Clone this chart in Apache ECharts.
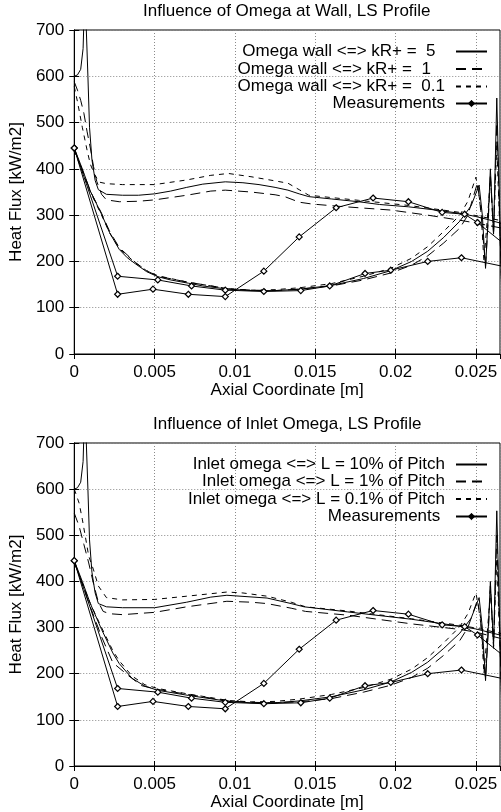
<!DOCTYPE html>
<html>
<head>
<meta charset="utf-8">
<script src="https://cdn.jsdelivr.net/npm/echarts@6/dist/echarts.min.js"></script>
<style>
html,body{margin:0;padding:0;background:#fff;}
#chart{width:501px;height:812px;}
</style>
</head>
<body>
<div id="chart"></div>
<script>
// ---------------- DATA ----------------
var xTicks = [0, 0.005, 0.01, 0.015, 0.02, 0.025];
var yTicks = [0, 100, 200, 300, 400, 500, 600, 700];

var titleTop = 'Influence of Omega at Wall, LS Profile';
var titleBottom = 'Influence of Inlet Omega, LS Profile';
var namesTop = ['Omega wall <=> kR+ =  5  ', 'Omega wall <=> kR+ =  1   ', 'Omega wall <=> kR+ =  0.1', 'Measurements'];
var namesBottom = ['Inlet omega <=> L = 10% of Pitch', 'Inlet omega <=> L = 1% of Pitch', 'Inlet omega <=> L = 0.1% of Pitch', 'Measurements '];

// Measurements (same in both panels) - two branches starting at leading edge
var measA = [[0,445],[0.0027,129],[0.0049,140],[0.0071,129],[0.0094,124],[0.0118,179],[0.0140,253],[0.0163,316],[0.0186,337],[0.0208,329],[0.0229,306],[0.0243,302],[0.0251,284],[0.0266,242]];
var measB = [[0,445],[0.0027,168],[0.0052,160],[0.0073,147],[0.0094,138],[0.0118,135],[0.0141,137],[0.0159,147],[0.0181,174],[0.0197,181],[0.0220,200],[0.0241,208],[0.0266,190]];

// Top panel: kR+ = 5 (solid)
var top5Upper = [[0,600],[0.0002,603],[0.0004,615],[0.00055,660],[0.00065,780],[0.00075,700],[0.00085,600],[0.00095,490],[0.0011,420],[0.0013,375],[0.0015,355],[0.002,345],[0.003,343],[0.004,343],[0.005,346],[0.006,352],[0.007,360],[0.008,367],[0.0094,372],[0.0105,370],[0.0115,366],[0.0125,360],[0.0133,354],[0.014,346],[0.0146,340],[0.016,335],[0.0177,329],[0.019,323],[0.0208,318],[0.0225,311],[0.024,304],[0.025,297],[0.0258,290],[0.0266,282]];
var top5Lower = [[0,445],[0.0005,400],[0.001,352],[0.0017,302],[0.0022,262],[0.0028,226],[0.0033,208],[0.0038,195],[0.0045,178],[0.0052,167],[0.006,160],[0.0071,153],[0.008,147],[0.0096,140],[0.011,137],[0.0125,137],[0.014,140],[0.016,148],[0.018,163],[0.0197,180],[0.021,200],[0.022,222],[0.023,252],[0.024,287],[0.0247,320],[0.0252,365],[0.0254,300],[0.0256,185],[0.0258,320],[0.0259,400],[0.0261,260],[0.0263,553],[0.0266,140]];
// kR+ = 1 (long dash)
var top1Upper = [[0,588],[0.0002,570],[0.0004,548],[0.0006,520],[0.0008,480],[0.001,445],[0.0012,405],[0.0014,373],[0.0017,345],[0.002,333],[0.0028,329],[0.004,330],[0.005,333],[0.007,343],[0.0085,352],[0.0094,354],[0.011,350],[0.0125,344],[0.0131,340],[0.014,328],[0.0148,324],[0.0165,319],[0.0197,311],[0.022,300],[0.024,289],[0.025,283],[0.0266,272]];
var top1Lower = [[0,442],[0.0005,398],[0.001,352],[0.0017,304],[0.0022,265],[0.0028,230],[0.0038,198],[0.0045,180],[0.0052,168],[0.0071,155],[0.0096,141],[0.011,138],[0.0125,137],[0.014,140],[0.016,147],[0.018,160],[0.0197,175],[0.021,192],[0.022,212],[0.023,240],[0.024,272],[0.0245,300],[0.0251,370],[0.0253,310],[0.0256,190],[0.0258,310],[0.0259,390],[0.0261,255],[0.0263,500],[0.0266,150]];
// kR+ = 0.1 (short dash)
var top01Upper = [[0,578],[0.0002,545],[0.0005,490],[0.0008,440],[0.001,410],[0.0013,385],[0.0016,371],[0.002,368],[0.003,366],[0.005,366],[0.007,376],[0.0085,386],[0.0096,390],[0.011,383],[0.0125,374],[0.0133,369],[0.014,355],[0.0146,343],[0.016,338],[0.0177,332],[0.0208,321],[0.024,306],[0.025,299],[0.0266,288]];
var top01Lower = [[0,440],[0.0005,395],[0.001,350],[0.0017,300],[0.0022,262],[0.0028,228],[0.0038,197],[0.0045,180],[0.0052,169],[0.0071,155],[0.0096,141],[0.011,138],[0.0125,139],[0.014,143],[0.016,152],[0.018,168],[0.0197,185],[0.021,207],[0.022,232],[0.023,265],[0.024,300],[0.0245,330],[0.025,382],[0.0253,320],[0.0255,200],[0.0258,330],[0.0259,380],[0.0261,270],[0.0263,450],[0.0266,160]];

// Bottom panel: L = 10% (solid)
var bot10Upper = [[0,600],[0.0002,603],[0.0004,615],[0.00055,660],[0.00065,780],[0.00075,700],[0.00085,600],[0.00095,490],[0.0011,420],[0.0013,375],[0.0015,352],[0.002,345],[0.003,343],[0.005,343],[0.007,355],[0.0085,366],[0.0095,370],[0.012,364],[0.0135,352],[0.0143,345],[0.017,334],[0.021,318],[0.024,303],[0.025,297],[0.0266,283]];
var bot10Lower = [[0,445],[0.0005,400],[0.001,352],[0.0017,296],[0.0024,245],[0.0028,222],[0.0036,190],[0.0044,173],[0.0052,164],[0.0071,153],[0.0096,140],[0.011,137],[0.0125,137],[0.014,141],[0.016,150],[0.018,165],[0.0197,182],[0.021,203],[0.022,225],[0.023,255],[0.024,288],[0.0247,320],[0.0252,365],[0.0254,300],[0.0256,185],[0.0258,320],[0.0259,400],[0.0261,260],[0.0263,553],[0.0266,140]];
// L = 1% (long dash)
var bot1Upper = [[0,548],[0.0003,520],[0.0006,480],[0.0009,440],[0.0012,395],[0.0015,355],[0.0018,335],[0.0022,330],[0.003,328],[0.005,333],[0.007,345],[0.0095,357],[0.011,355],[0.012,352],[0.0135,342],[0.0144,335],[0.017,327],[0.021,308],[0.024,296],[0.025,290],[0.0266,276]];
var bot1Lower = [[0,442],[0.0005,395],[0.001,345],[0.0017,280],[0.0024,224],[0.0034,195],[0.0042,174],[0.0052,166],[0.0071,155],[0.0096,141],[0.011,138],[0.0125,137],[0.014,139],[0.016,146],[0.018,160],[0.0197,175],[0.021,192],[0.022,212],[0.023,240],[0.024,272],[0.0245,300],[0.0251,360],[0.0253,310],[0.0256,190],[0.0258,310],[0.0259,390],[0.0261,255],[0.0263,500],[0.0266,150]];
// L = 0.1% (short dash)
var bot01Upper = [[0,600],[0.0003,570],[0.0005,535],[0.0009,455],[0.0012,425],[0.0015,390],[0.002,365],[0.003,360],[0.005,361],[0.007,368],[0.0095,377],[0.0105,375],[0.012,368],[0.0135,355],[0.0144,345],[0.017,336],[0.021,319],[0.024,305],[0.025,299],[0.0266,287]];
var bot01Lower = [[0,440],[0.0005,396],[0.001,352],[0.0017,300],[0.0024,250],[0.0028,228],[0.0036,195],[0.0044,176],[0.0052,168],[0.0071,156],[0.0096,142],[0.011,139],[0.0125,140],[0.014,145],[0.016,155],[0.018,170],[0.0197,188],[0.021,210],[0.022,235],[0.023,267],[0.024,302],[0.0245,330],[0.025,375],[0.0253,320],[0.0255,200],[0.0258,330],[0.0259,380],[0.0261,270],[0.0263,450],[0.0266,160]];

// ---------------- CHART ----------------
var FONT = '"Liberation Sans", Arial, Helvetica, sans-serif';
var FS = 17;
var XMAX = 0.0265;
var LONG = [10, 6];
var SHORT = [5, 5];

var chart = echarts.init(document.getElementById('chart'), null, {renderer: 'canvas'});

var grids = [
  {left: 72, right: 1, top: 30, height: 324},
  {left: 72, right: 1, top: 443, height: 323}
];
grids.forEach(function (g) { g.show = true; g.borderColor = '#000'; g.borderWidth = 1; g.backgroundColor = 'transparent'; });

function mainX(gi) {
  return {
    gridIndex: gi, type: 'value', min: 0, max: XMAX, interval: 0.005,
    name: 'Axial Coordinate [m]', nameLocation: 'middle', nameGap: 25,
    nameTextStyle: {fontSize: FS, color: '#000', fontFamily: FONT},
    axisLine: {show: true, onZero: false, lineStyle: {color: '#000', width: 1}},
    axisTick: {show: true, inside: true, length: 5, lineStyle: {color: '#000'}},
    axisLabel: {show: true, margin: 10, fontSize: FS, color: '#000', fontFamily: FONT, showMaxLabel: false,
      formatter: function (v) { return String(parseFloat(v.toFixed(4))); }},
    splitLine: {show: true, lineStyle: {color: '#8a8a8a', type: [1, 2], width: 1}}
  };
}
function mirrorX(gi) {
  return {
    gridIndex: gi, type: 'value', position: 'top', min: 0, max: XMAX, interval: 0.005,
    axisLine: {show: true, lineStyle: {color: '#000'}},
    axisTick: {show: true, inside: true, length: 5, lineStyle: {color: '#000'}},
    axisLabel: {show: false}, splitLine: {show: false}
  };
}
function mainY(gi) {
  return {
    gridIndex: gi, type: 'value', min: 0, max: 700, interval: 100,
    name: 'Heat Flux [kW/m2]', nameLocation: 'middle', nameGap: 46,
    nameTextStyle: {fontSize: FS, color: '#000', fontFamily: FONT},
    axisLine: {show: true, onZero: false, lineStyle: {color: '#000', width: 1}},
    axisTick: {show: true, inside: true, length: 5, lineStyle: {color: '#000'}},
    axisLabel: {show: true, margin: 10, fontSize: FS, color: '#000', fontFamily: FONT},
    splitLine: {show: true, lineStyle: {color: '#8a8a8a', type: [1, 2], width: 1}}
  };
}
function mirrorY(gi) {
  return {
    gridIndex: gi, type: 'value', position: 'right', min: 0, max: 700, interval: 100,
    axisLine: {show: true, lineStyle: {color: '#000'}},
    axisTick: {show: true, inside: true, length: 5, lineStyle: {color: '#000'}},
    axisLabel: {show: false}, splitLine: {show: false}
  };
}

function simSeries(name, data, gi, dash) {
  return {
    name: name, type: 'line', xAxisIndex: gi * 2, yAxisIndex: gi * 2, data: data,
    showSymbol: false, symbol: 'none', smooth: false, clip: true, silent: true,
    lineStyle: {color: '#000', width: 1, type: dash},
    itemStyle: {color: '#000'}, z: 3
  };
}
function measSeries(name, data, gi) {
  return {
    name: name, type: 'line', xAxisIndex: gi * 2, yAxisIndex: gi * 2, data: data,
    symbol: 'diamond', symbolSize: 6, showSymbol: true, clip: true, silent: true,
    lineStyle: {color: '#000', width: 1, type: 'solid'},
    itemStyle: {color: '#fff', borderColor: '#000', borderWidth: 1.2}, z: 4
  };
}

var series = [
  simSeries(namesTop[0], top5Upper, 0, 'solid'),
  simSeries(namesTop[0], top5Lower, 0, 'solid'),
  simSeries(namesTop[1], top1Upper, 0, LONG),
  simSeries(namesTop[1], top1Lower, 0, LONG),
  simSeries(namesTop[2], top01Upper, 0, SHORT),
  simSeries(namesTop[2], top01Lower, 0, SHORT),
  measSeries(namesTop[3], measA, 0),
  measSeries(namesTop[3], measB, 0),
  simSeries(namesBottom[0], bot10Upper, 1, 'solid'),
  simSeries(namesBottom[0], bot10Lower, 1, 'solid'),
  simSeries(namesBottom[1], bot1Upper, 1, LONG),
  simSeries(namesBottom[1], bot1Lower, 1, LONG),
  simSeries(namesBottom[2], bot01Upper, 1, SHORT),
  simSeries(namesBottom[2], bot01Lower, 1, SHORT),
  measSeries(namesBottom[3], measA, 1),
  measSeries(namesBottom[3], measB, 1)
];

function legendItem(name, centerY, isMeas) {
  var lg = {
    data: [name], orient: 'vertical', align: 'right', right: 13, top: centerY - 9,
    itemWidth: 31, itemHeight: 8, padding: 0, selectedMode: false,
    textStyle: {fontSize: FS, color: '#000', fontFamily: FONT, padding: [0, 6, 0, 0]}
  };
  if (!isMeas) {
    lg.itemStyle = {color: 'rgba(0,0,0,0)', borderColor: 'rgba(0,0,0,0)', borderWidth: 0, opacity: 0};
  } else {
    lg.itemStyle = {color: '#000', borderColor: '#000', borderWidth: 1};
  }
  return lg;
}
var legendRowsTop = [52, 69.5, 87, 104];
var legendRowsBottom = [465, 482, 499.5, 517];
var legends = [];
namesTop.forEach(function (n, i) { legends.push(legendItem(n, legendRowsTop[i], i === 3)); });
namesBottom.forEach(function (n, i) { legends.push(legendItem(n, legendRowsBottom[i], i === 3)); });

var option = {
  animation: false,
  backgroundColor: '#fff',
  textStyle: {fontFamily: FONT},
  title: [
    {text: titleTop, left: 143, top: 3, padding: 0, textStyle: {fontSize: FS, fontWeight: 'normal', color: '#000', fontFamily: FONT}},
    {text: titleBottom, left: 153, top: 416, padding: 0, textStyle: {fontSize: FS, fontWeight: 'normal', color: '#000', fontFamily: FONT}}
  ],
  legend: legends,
  grid: grids,
  xAxis: [mainX(0), mirrorX(0), mainX(1), mirrorX(1)],
  yAxis: [mainY(0), mirrorY(0), mainY(1), mirrorY(1)],
  series: series
};
chart.setOption(option);
</script>
</body>
</html>
